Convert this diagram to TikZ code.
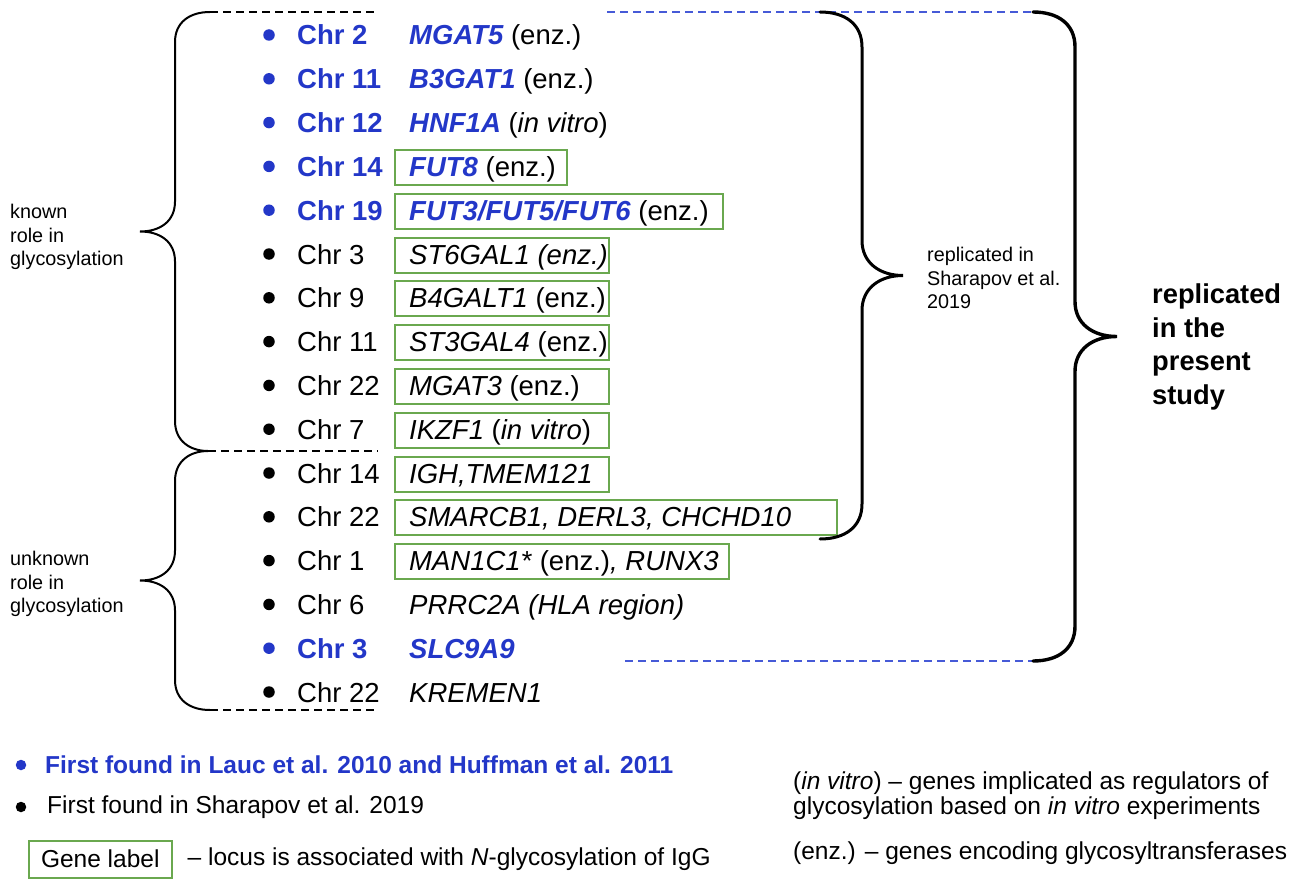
\documentclass[tikz,border=0pt]{standalone}
\usepackage{fontspec}
\setmainfont{Liberation Sans}
\usepackage{tikz}
\usetikzlibrary{positioning}
\usepackage{xcolor}
\definecolor{chrblue}{RGB}{35,55,200}
\definecolor{lineblue}{RGB}{70,90,215}
\definecolor{boxgreen}{RGB}{106,168,79}
\newcommand{\rowfont}{\fontsize{27.5}{33}\selectfont}
\newcommand{\notefont}{\fontsize{19.8}{23.5}\selectfont}
\newcommand{\legendfont}{\fontsize{24.5}{25}\selectfont}
\newcommand{\hitgene}[1]{\textcolor{chrblue}{\bfseries\itshape #1}}

\begin{document}
\begin{tikzpicture}[x=1pt, y=-1pt,
dot/.style={circle, fill=black, inner sep=0pt, minimum size=11.5pt},
hitdot/.style={dot, fill=chrblue},
chr/.style={anchor=base west, inner sep=0pt, font=\rowfont},
hitchr/.style={chr, text=chrblue, font=\rowfont\bfseries},
gene/.style={anchor=base west, inner sep=0pt, font=\rowfont},
genebox/.style={draw=boxgreen, line width=2pt, minimum height=35pt, inner sep=0pt, anchor=west},
curl/.style={line width=2pt, line cap=round},
guide/.style={line width=1.5pt, dash pattern=on 8pt off 5pt},
note/.style={anchor=west, align=left, inner sep=0pt, font=\notefont},
legend/.style={anchor=west, align=left, inner sep=0pt, font=\legendfont}]
\useasboundingbox (0,0) rectangle (1296,880);

% loci
\node[hitdot] (d1) at (269,35) {};
\node[hitchr] (c1) at (297,45) {Chr 2};
\node[gene] (g1) at (409,45) {\hitgene{MGAT5} (enz.)};

\node[hitdot] (d2) at (269,78.8) {};
\node[hitchr] (c2) at (297,88.8) {Chr 11};
\node[gene] (g2) at (409,88.8) {\hitgene{B3GAT1} (enz.)};

\node[hitdot] (d3) at (269,122.6) {};
\node[hitchr] (c3) at (297,132.6) {Chr 12};
\node[gene] (g3) at (409,132.6) {\hitgene{HNF1A} (\textit{in vitro})};

\node[hitdot] (d4) at (269,166.4) {};
\node[hitchr] (c4) at (297,176.4) {Chr 14};
\node[genebox, minimum width=172pt] (b4) at (394,167.4) {};
\node[gene] (g4) at (409,176.4) {\hitgene{FUT8} (enz.)};

\node[hitdot] (d5) at (269,210.2) {};
\node[hitchr] (c5) at (297,220.2) {Chr 19};
\node[genebox, minimum width=328pt] (b5) at (394,211.2) {};
\node[gene] (g5) at (409,220.2) {\hitgene{FUT3/FUT5/FUT6} (enz.)};

\node[dot] (d6) at (269,254) {};
\node[chr] (c6) at (297,264) {Chr 3};
\node[genebox, minimum width=214pt] (b6) at (394,255) {};
\node[gene] (g6) at (409,264) {\textit{ST6GAL1 (enz.)}};

\node[dot] (d7) at (269,297.8) {};
\node[chr] (c7) at (297,307.8) {Chr 9};
\node[genebox, minimum width=214pt] (b7) at (394,298.8) {};
\node[gene] (g7) at (409,307.8) {\textit{B4GALT1} (enz.)};

\node[dot] (d8) at (269,341.6) {};
\node[chr] (c8) at (297,351.6) {Chr 11};
\node[genebox, minimum width=214pt] (b8) at (394,342.6) {};
\node[gene] (g8) at (409,351.6) {\textit{ST3GAL4} (enz.)};

\node[dot] (d9) at (269,385.4) {};
\node[chr] (c9) at (297,395.4) {Chr 22};
\node[genebox, minimum width=214pt] (b9) at (394,386.4) {};
\node[gene] (g9) at (409,395.4) {\textit{MGAT3} (enz.)};

\node[dot] (d10) at (269,429.2) {};
\node[chr] (c10) at (297,439.2) {Chr 7};
\node[genebox, minimum width=214pt] (b10) at (394,430.2) {};
\node[gene] (g10) at (409,439.2) {\textit{IKZF1} (\textit{in vitro})};

\node[dot] (d11) at (269,473) {};
\node[chr] (c11) at (297,483) {Chr 14};
\node[genebox, minimum width=214pt] (b11) at (394,474) {};
\node[gene] (g11) at (409,483) {\textit{IGH,TMEM121}};

\node[dot] (d12) at (269,516.8) {};
\node[chr] (c12) at (297,526.8) {Chr 22};
\node[genebox, minimum width=442pt] (b12) at (394,517.8) {};
\node[gene] (g12) at (409,526.8) {\textit{SMARCB1, DERL3, CHCHD10}};

\node[dot] (d13) at (269,560.6) {};
\node[chr] (c13) at (297,570.6) {Chr 1};
\node[genebox, minimum width=334pt] (b13) at (394,561.6) {};
\node[gene] (g13) at (409,570.6) {\textit{MAN1C1*} (enz.)\textit{, RUNX3}};

\node[dot] (d14) at (269,604.4) {};
\node[chr] (c14) at (297,614.4) {Chr 6};
\node[gene] (g14) at (409,614.4) {\textit{PRRC2A (HLA region)}};

\node[hitdot] (d15) at (269,648.2) {};
\node[hitchr] (c15) at (297,658.2) {Chr 3};
\node[gene] (g15) at (409,658.2) {\hitgene{SLC9A9}};

\node[dot] (d16) at (269,692) {};
\node[chr] (c16) at (297,702) {Chr 22};
\node[gene] (g16) at (409,702) {\textit{KREMEN1}};

% brace ends
\coordinate (kTop) at (210,12);
\coordinate (kMid) at (208,451);
\coordinate (kBot) at (210,710);
\coordinate (rTop) at (820,12);
\coordinate (rBot) at (820,539);
\coordinate (pTop) at (1033,12);
\coordinate (pBot) at (1033,661);

\draw[guide] (kTop) -- (378,12);
\draw[guide] (kMid) -- (378,451);
\draw[guide] (kBot) -- (378,710);
\draw[guide, lineblue] (607,12) -- (pTop);
\draw[guide, lineblue] (625,661) -- (pBot);

% left braces
\draw[curl] (kTop) .. controls (190,12) and (175,22) .. (175,42) -- (175,201.5)
  .. controls (175,221.5) and (160,231.5) .. (140,231.5)
  .. controls (160,231.5) and (175,241.5) .. (175,261.5) -- (175,421)
  .. controls (175,441) and (190,451) .. (kMid);
\draw[curl] (kMid) .. controls (190,451) and (175,461) .. (175,481) -- (175,550.5)
  .. controls (175,570.5) and (160,580.5) .. (140,580.5)
  .. controls (160,580.5) and (175,590.5) .. (175,610.5) -- (175,680)
  .. controls (175,700) and (190,710) .. (kBot);

% right braces
\draw[curl, line width=3pt] (rTop) .. controls (845,12) and (862,24) .. (862,47) -- (862,240.5)
  .. controls (862,263) and (880,275.5) .. (903,275.5)
  .. controls (880,275.5) and (862,288) .. (862,310.5) -- (862,504)
  .. controls (862,527) and (845,539) .. (rBot);
\draw[curl, line width=3.4pt] (pTop) .. controls (1058,12) and (1075,24) .. (1075,47) -- (1075,301.5)
  .. controls (1075,324) and (1093,336.5) .. (1117,336.5)
  .. controls (1093,336.5) and (1075,349) .. (1075,371.5) -- (1075,626)
  .. controls (1075,649) and (1058,661) .. (pBot);

\node[note] (known) at (10,237) {known\\role in\\glycosylation};
\node[note] (unknown) at (10,584) {unknown\\role in\\glycosylation};
\node[note] (sharapov) at (927,278) {replicated in\\Sharapov et al.\\2019};
\node[anchor=west, align=left, inner sep=0pt, font=\fontsize{27.3}{33.5}\selectfont\bfseries] (present) at (1152,347) {replicated\\in the\\present\\study};

% legend
\node[hitdot, minimum size=10.5pt] (ldot1) at (21,765) {};
\node[legend, text=chrblue, font=\legendfont\bfseries] (lhit) at (45,765) {First found in Lauc et al. 2010 and Huffman et al. 2011};
\node[dot, minimum size=10.5pt] (ldot2) at (21,807) {};
\node[legend] (lnew) at (47,807) {First found in Sharapov et al. 2019};
\node[draw=boxgreen, line width=2pt, minimum height=37pt, inner xsep=12pt, anchor=west, font=\legendfont] (lbox) at (28,859) {Gene label};
\node[legend, right=15pt of lbox] (lboxtxt) {-- locus is associated with \textit{N}-glycosylation of IgG};
\node[legend, anchor=north west] (lvitro) at (793,772) {(\textit{in vitro}) -- genes implicated as regulators of\\glycosylation based on \textit{in vitro} experiments};
\node[legend] (lenz) at (793,853) {(enz.) -- genes encoding glycosyltransferases};
\end{tikzpicture}
\end{document}
